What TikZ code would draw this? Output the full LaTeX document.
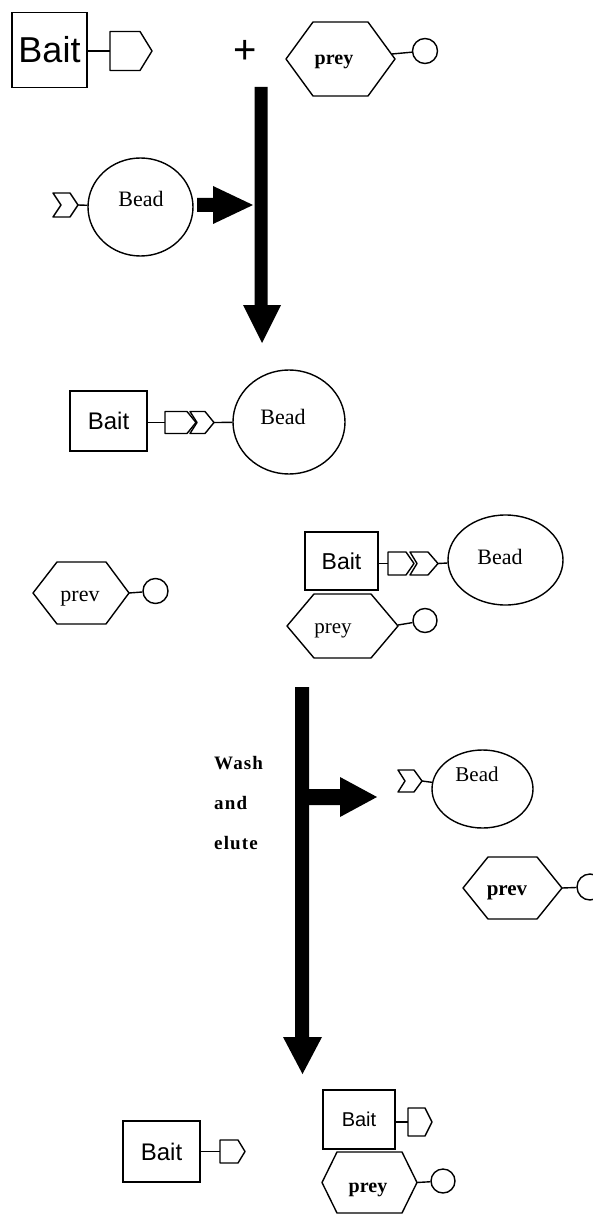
\documentclass[tikz,border=0pt]{standalone}
\usepackage{fontspec}
\setmainfont{Liberation Serif}
\newfontfamily\arialf{Liberation Sans}
\newfontfamily\washf[LetterSpace=6]{Liberation Serif}
\usetikzlibrary{shapes.geometric}
\begin{document}
\begin{tikzpicture}[x=1pt,y=-1pt,
  shp/.style={draw, line width=1.4pt, line join=round},
  baitbox/.style={draw, line width=1.4pt, rectangle, inner sep=0pt, font=\arialf\fontsize{24}{26}\selectfont},
  beadshape/.style={draw, ellipse, line width=1.4pt, inner sep=0pt},
  beadtext/.style={font=\fontsize{22}{24}\selectfont, inner sep=0pt},
  preytext/.style={font=\fontsize{21}{23}\selectfont, inner sep=0pt},
  preybold/.style={font=\bfseries\fontsize{20}{22}\selectfont, inner sep=0pt},
  washtext/.style={font=\washf\bfseries\fontsize{19}{21}\selectfont, inner sep=0pt, anchor=west},
  knob/.style={draw, circle, line width=1.4pt, inner sep=0pt, minimum size=25pt},
  fat/.style={fill=black, draw=none}
]
\useasboundingbox (0,0) rectangle (592,1214);

% ---------- top row ----------
\node[baitbox, minimum width=75pt, minimum height=75pt, font=\arialf\fontsize{36}{40}\selectfont] (baitA) at (49.5,50) {Bait};
\coordinate (tagAl) at (110,51);
\draw[shp] (110,31.5) -- (140,31.5) -- (152,51) -- (140,70.5) -- (110,70.5) -- cycle;
\draw[shp] (baitA.east |- tagAl) -- (tagAl);

\node[font=\arialf\fontsize{40}{40}\selectfont, inner sep=0pt] (plus) at (245,52) {+};

\draw[shp] (286,59) -- (313,22) -- (368,22) -- (395,59) -- (368,96) -- (313,96) -- cycle;
\coordinate (hexAr) at (392,54);
\node[knob] (knobA) at (425,51) {};
\draw[shp] (hexAr) -- (knobA);
\node[preybold] (preyA) at (334,62) {prey};

% main arrow 1
\fill[fat] (254.5,87) -- (267.5,87) -- (267.5,305) -- (281,305) -- (262,343) -- (243,305) -- (254.5,305) -- cycle;

% bead 1
\node[beadshape, minimum width=105pt, minimum height=98pt] (beadA) at (140.5,207) {};
\node[beadtext] (beadAt) at (141,199) {Bead};
\draw[shp] (53,193) -- (70,193) -- (78,205) -- (70,217) -- (53,217) -- (61,205) -- cycle;
\coordinate (chA) at (78,205);
\draw[shp] (chA) -- (beadA);
\fill[fat] (197,198) -- (213,198) -- (213,186) -- (253,205) -- (213,224) -- (213,212) -- (197,212) -- cycle;

% ---------- complex 1 ----------
\node[baitbox, minimum width=77pt, minimum height=60pt] (baitB) at (108.5,421) {Bait};
\coordinate (dBl) at (165,422.5);
\draw[shp] (165,411.5) -- (187,411.5) -- (196,422.5) -- (187,433.5) -- (165,433.5) -- cycle;
\draw[shp] (190,411.5) -- (205,411.5) -- (214,422.5) -- (205,433.5) -- (190,433.5) -- (197,422.5) -- cycle;
\draw[shp] (baitB.east |- dBl) -- (dBl);
\node[beadshape, minimum width=112pt, minimum height=104pt] (beadB) at (289,422) {};
\node[beadtext] (beadBt) at (283,417) {Bead};
\coordinate (chB) at (214,422.5);
\draw[shp] (chB) -- (beadB);

% ---------- free prey (left) ----------
\draw[shp] (33,593) -- (57,562) -- (106,562) -- (129,593) -- (106,624) -- (57,624) -- cycle;
\node[preytext, font=\fontsize{22}{24}\selectfont] (preyC) at (80,599) {prev};
\node[knob] (knobC) at (155.5,591) {};
\coordinate (hexCr) at (129,593);
\draw[shp] (hexCr) -- (knobC);

% ---------- complex 2 ----------
\node[baitbox, minimum width=73pt, minimum height=58pt, font=\arialf\fontsize{23}{25}\selectfont] (baitC) at (341.5,561) {Bait};
\coordinate (dCl) at (388,563.5);
\draw[shp] (388,552) -- (406,552) -- (414,563.5) -- (406,575) -- (388,575) -- cycle;
\draw[shp] (410,552) -- (428,552) -- (438,563.5) -- (428,575) -- (410,575) -- (417,563.5) -- cycle;
\draw[shp] (baitC.east |- dCl) -- (dCl);
\node[beadshape, minimum width=115pt, minimum height=90pt] (beadC) at (505.5,560) {};
\node[beadtext] (beadCt) at (500,557) {Bead};
\coordinate (chC) at (438,563.5);
\draw[shp] (chC) -- (beadC);
\draw[shp] (287,626) -- (314,594) -- (371,594) -- (398,626) -- (371,658) -- (314,658) -- cycle;
\node[preytext] (preyD) at (333,631) {prey};
\node[knob, minimum size=24pt] (knobD) at (425,620.5) {};
\coordinate (hexDr) at (398,625);
\draw[shp] (hexDr) -- (knobD);

% ---------- wash and elute ----------
\fill[fat] (295,687) -- (309,687) -- (309,1037) -- (322,1037) -- (302.5,1074) -- (283,1037) -- (295,1037) -- cycle;
\fill[fat] (309,789) -- (340,789) -- (340,777) -- (377,797) -- (340,817) -- (340,805) -- (309,805) -- cycle;
\node[washtext] (w1) at (214,763) {Wash};
\node[washtext] (w2) at (214,803) {and};
\node[washtext] (w3) at (214,843) {elute};

\node[beadshape, minimum width=101pt, minimum height=78pt] (beadD) at (482.5,789) {};
\node[beadtext, font=\fontsize{21}{23}\selectfont] (beadDt) at (477,774) {Bead};
\draw[shp] (398,770) -- (414,770) -- (422,781) -- (414,792) -- (398,792) -- (405,781) -- cycle;
\coordinate (chD) at (422,781);
\draw[shp] (chD) -- (beadD);

\draw[shp] (463,888) -- (488,857) -- (537,857) -- (562,888) -- (537,919) -- (488,919) -- cycle;
\node[preybold, font=\bfseries\fontsize{21}{23}\selectfont] (preyE) at (507,893) {prev};
\node[knob, minimum size=26pt] (knobE) at (590,887) {};
\coordinate (hexEr) at (562,888);
\draw[shp] (hexEr) -- (knobE);

% ---------- bottom ----------
\node[baitbox, minimum width=77pt, minimum height=61pt] (baitD) at (161.5,1151.5) {Bait};
\coordinate (dDl) at (220,1151.5);
\draw[shp] (220,1140) -- (238,1140) -- (245,1151.5) -- (238,1163) -- (220,1163) -- cycle;
\draw[shp] (baitD.east |- dDl) -- (dDl);

\node[baitbox, minimum width=72pt, minimum height=59pt, font=\arialf\fontsize{20}{22}\selectfont] (baitE) at (359,1119.5) {Bait};
\coordinate (dEl) at (408,1122);
\draw[shp] (408,1108) -- (425,1108) -- (432,1122) -- (425,1136) -- (408,1136) -- cycle;
\draw[shp] (baitE.east |- dEl) -- (dEl);

\draw[shp] (322,1182.5) -- (337,1152) -- (402,1152) -- (417,1182.5) -- (402,1213) -- (337,1213) -- cycle;
\node[preybold] (preyF) at (368,1190) {prey};
\node[knob, minimum size=24pt] (knobF) at (443,1181) {};
\coordinate (hexFr) at (417,1182.5);
\draw[shp] (hexFr) -- (knobF);
\end{tikzpicture}
\end{document}
